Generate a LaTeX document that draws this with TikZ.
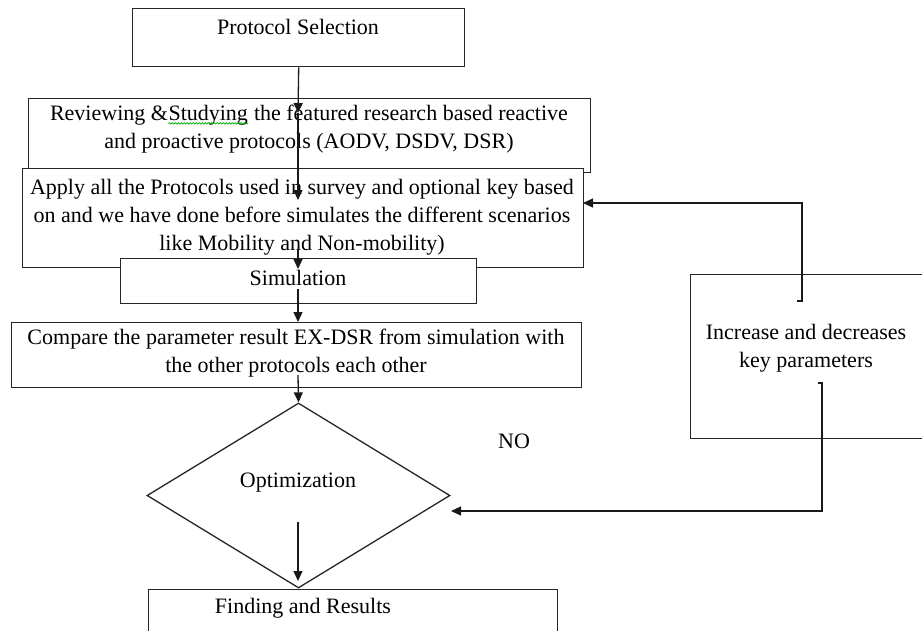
\documentclass[tikz,border=0pt]{standalone}
\usepackage{fontspec}
\setmainfont{Liberation Serif}
\usetikzlibrary{arrows.meta,shapes.geometric,decorations.pathmorphing}
\begin{document}
\begin{tikzpicture}[x=1pt,y=-1pt,
  box/.style={draw=black!85, line width=1.4pt, fill=white, inner sep=0pt, anchor=north west},
  txt/.style={inner sep=0pt, align=center, font=\fontsize{22}{28}\selectfont},
  arr/.style={draw=black!90, -{Triangle[length=10pt,width=9pt]}, line width=1.3pt},
  ln/.style={draw=black!90, line width=1.3pt}]
\useasboundingbox (0,0) rectangle (922,630);
\clip (0,0) rectangle (922,630);
\fill[white] (0,0) rectangle (922,630);

% boxes
\node[box, minimum width=332pt, minimum height=58pt] (b1) at (132,8) {};
\node[box, minimum width=562pt, minimum height=74pt] (b2) at (28,98) {};
\node[box, minimum width=561pt, minimum height=99pt] (b3) at (22,168) {};
\node[box, minimum width=356pt, minimum height=45pt] (sim) at (120,258) {};
\node[box, minimum width=570pt, minimum height=65pt] (cmp) at (11,322) {};
\node[draw=black!85, line width=1.3pt, diamond, inner sep=0pt, minimum width=303pt, minimum height=185pt] (dia) at (298.5,495.5) {};
\node[box, minimum width=409pt, minimum height=60pt] (fin) at (148,589) {};
\node[box, minimum width=250pt, minimum height=164pt] (inc) at (690,274) {};

% texts
\node[txt] (t1) at (298,27) {Protocol Selection};
\node[txt] (t2) at (309,129) {Reviewing \&\tikz[baseline=(sw.base)]{\node[inner sep=0pt,anchor=base,font=\fontsize{22}{28}\selectfont] (sw) {Studying};
  \draw[green!70!black, line width=0.7pt, decorate, decoration={snake, amplitude=0.8pt, segment length=3pt}] ([yshift=-3pt]sw.base west) -- ([yshift=-3pt]sw.base east);} the featured research based reactive\\and proactive protocols (AODV, DSDV, DSR)};
\node[txt] (t3) at (302,217) {Apply all the Protocols used in survey and optional key based\\on and we have done before simulates the different scenarios\\like Mobility and Non-mobility)};
\node[txt] (t4) at (298,278) {Simulation};
\node[txt] (t5) at (296,353) {Compare the parameter result EX-DSR from simulation with\\the other protocols each other};
\node[txt] (t6) at (298,483) {Optimization};
\node[txt] (t7) at (303,608) {Finding and Results};
\node[txt] (t8) at (806,348) {Increase and decreases\\key parameters};
\node[txt] (no) at (514,441) {NO};

% connector points
\coordinate (p1) at (298,113);
\coordinate (p2) at (298,200);
\coordinate (p3) at (298,249);
\coordinate (p4) at (298,269);
\coordinate (p5) at (298,289);
\coordinate (p6) at (298,375);
\coordinate (p7) at (298,522);
\coordinate (p8) at (298,581);
\coordinate (u0) at (797,301);
\coordinate (u1) at (802,301);
\coordinate (u2) at (583,203);
\coordinate (l0) at (818,383);
\coordinate (l1) at (822,383);
\coordinate (l2) at (451,511);

% connectors
\draw[arr] (b1.south) -- (p1);
\draw[arr] (p1) -- (p2);
\draw[arr] (p3) -- (p4);
\draw[arr] (p5) -- (p5 |- cmp.north);
\draw[arr] (p6) -- (dia.north);
\draw[arr] (p7) -- (p8);
\draw[arr] (u0) -- (u1) |- (u2);
\draw[arr] (l0) -- (l1) |- (l2);
\end{tikzpicture}
\end{document}
